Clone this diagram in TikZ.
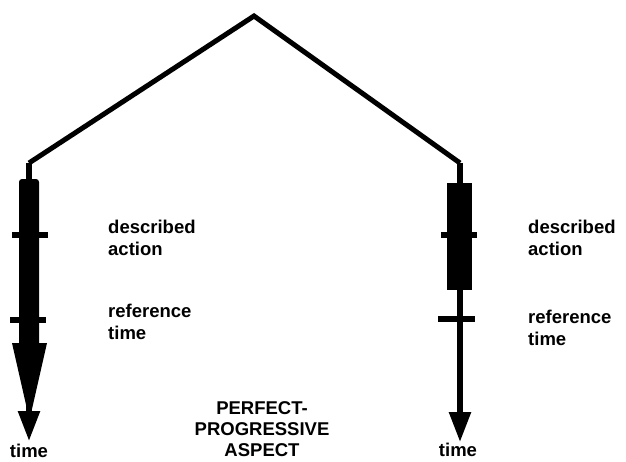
\documentclass[tikz,border=0pt]{standalone}
\usepackage{fontspec}
\setmainfont{Liberation Sans}
\usepackage{tikz}
\usetikzlibrary{arrows.meta, positioning}

\begin{document}
\begin{tikzpicture}[
  x=1pt, y=-1pt,
  font=\fontsize{18.5}{22}\selectfont\bfseries,
  roof/.style={line width=5pt, line join=miter},
  tick/.style={line width=6pt},
  timearrow/.style={line width=5.5pt, -{Triangle[length=30pt, width=21pt]}},
  note/.style={align=left, anchor=base west, inner sep=0pt},
]
\useasboundingbox (0,0) rectangle (626,461);

% ============ roof ============
\coordinate (apex)  at (254,16);
\coordinate (roofL) at (29,163);
\coordinate (roofR) at (460,163);
\draw[roof] (roofL) -- (apex) -- (roofR);

% ============ LEFT: time line ============
\coordinate (endL) at (29,441);
\draw[timearrow] (roofL) -- (endL);
\fill[rounded corners=3pt] (19,346) |- (39,179) -- (39,346) -- cycle;
\fill (12,343) -- (47,343) -- (29.5,420) -- cycle;
\draw[tick] (12,235) -- (48,235);
\draw[tick] (10,320) -- (46,320);

\node[note] (actL) at (108,255) {described\\action};
\node[note] (refL) at (108,339) {reference\\time};
\node[anchor=base] (timeL) at (29,457) {time};

% ============ RIGHT: time line ============
\coordinate (endR) at (460,442);
\draw[timearrow] (roofR) -- (endR);
\fill (447,183) rectangle (472,290);
\draw[tick] (441,235) -- (477,235);
\draw[tick] (438,319) -- (475,319);

\node[note] (actR) at (528,255) {described\\action};
\node[note] (refR) at (528,345) {reference\\time};
\node[anchor=base] (timeR) at (458,456) {time};

% ============ caption ============
\node[align=center, anchor=base, font=\fontsize{18.5}{21}\selectfont\bfseries] (aspect) at (262,456) {PERFECT-\\PROGRESSIVE\\ASPECT};

\end{tikzpicture}
\end{document}
